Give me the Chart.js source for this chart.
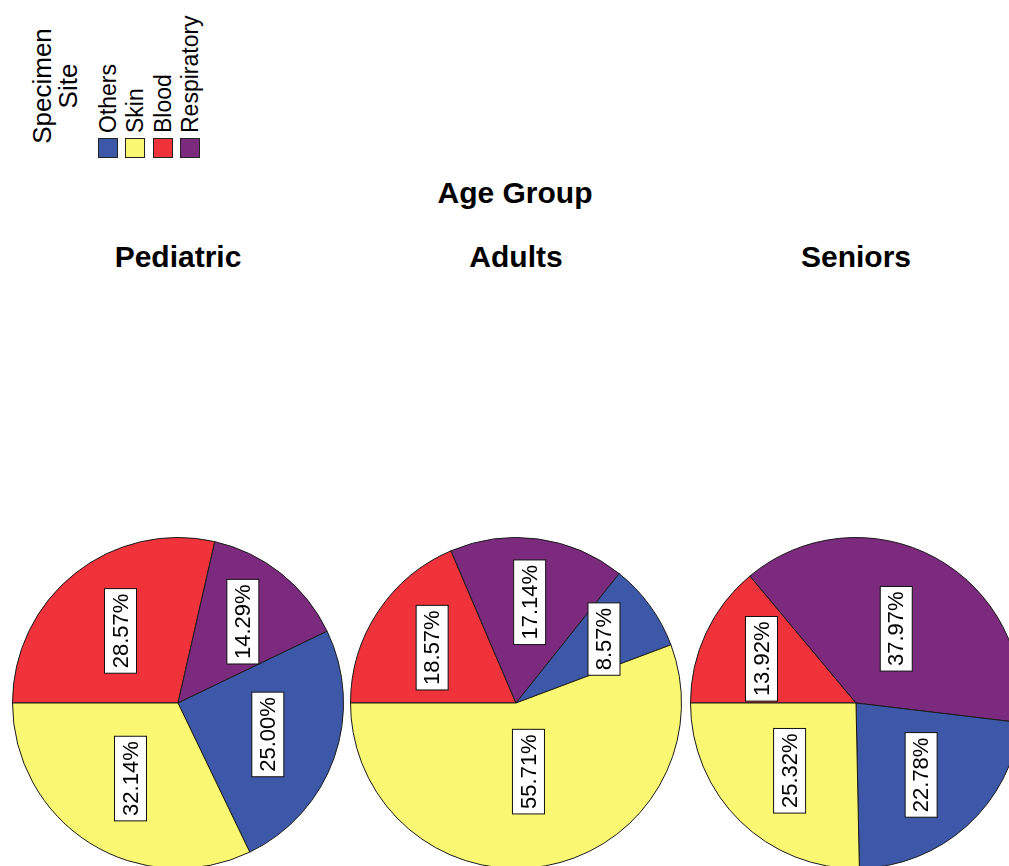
<!DOCTYPE html>
<html>
<head>
<meta charset="utf-8">
<script src="https://cdn.jsdelivr.net/npm/chart.js@4.4.0/dist/chart.umd.min.js"></script>
<style>
  html, body { margin: 0; padding: 0; overflow: hidden; }
  body { width: 1009px; height: 866px; position: relative; background: #fff; font-family: "Liberation Sans", Arial, sans-serif; color: #000; }
  .title { position: absolute; font-weight: bold; font-size: 30px; line-height: 1; white-space: nowrap; transform: translateX(-50%); }
  .pie { position: absolute; top: 537px; }
  .rot { position: absolute; transform-origin: 0 0; transform: rotate(-90deg); white-space: nowrap; line-height: 1; }
  .swatch { position: absolute; top: 138px; width: 20px; height: 20px; box-sizing: border-box; border: 1px solid #222; }
</style>
</head>
<body>
<div id="legend"></div>
<div class="title" style="left:515px; top:178px;">Age Group</div>

<script>
const categories = ['Others', 'Skin', 'Blood', 'Respiratory'];
const groups = ['Pediatric', 'Adults', 'Seniors'];
const pediatric = [25.00, 32.14, 28.57, 14.29];
const adults = [8.57, 55.71, 18.57, 17.14];
const seniors = [22.78, 25.32, 13.92, 37.97];
const colors = ['#3e58a9', '#faf873', '#f0323a', '#7b2a7e'];

// slices go clockwise from 9 o'clock in this order
const drawOrder = [2, 3, 0, 1];

const pieCenters = [178, 516, 856];
const groupValues = [pediatric, adults, seniors];

// legend
const legend = document.getElementById('legend');
const head = document.createElement('div');
head.className = 'rot';
head.style.cssText = 'left:29px; top:151px; width:130px; font-size:26px; line-height:26px; text-align:center; white-space:normal;';
head.innerHTML = 'Specimen<br>Site';
legend.appendChild(head);

categories.forEach((name, i) => {
    const x = 98 + i * 27.3;
    const sw = document.createElement('div');
    sw.className = 'swatch';
    sw.style.left = x + 'px';
    sw.style.background = colors[i];
    legend.appendChild(sw);

    const lab = document.createElement('div');
    lab.className = 'rot';
    lab.style.left = (x - 1) + 'px';
    lab.style.top = '133px';
    lab.style.fontSize = '23px';
    lab.textContent = name;
    legend.appendChild(lab);
});

const boxLabels = {
    id: 'boxLabels',
    afterDatasetsDraw(chart) {
        const ctx = chart.ctx;
        const meta = chart.getDatasetMeta(0);
        const values = chart.data.datasets[0].data;
        meta.data.forEach((arc, i) => {
            const p = arc.getProps(['x', 'y', 'startAngle', 'endAngle', 'outerRadius'], true);
            const mid = (p.startAngle + p.endAngle) / 2;
            const d = p.outerRadius * (0.70 - 0.005 * values[i]);
            const text = values[i].toFixed(2) + '%';
            ctx.save();
            ctx.font = '22px "Liberation Sans", Arial, sans-serif';
            const w = ctx.measureText(text).width;
            ctx.translate(p.x + Math.cos(mid) * d, p.y + Math.sin(mid) * d);
            ctx.rotate(-Math.PI / 2);
            ctx.fillStyle = '#fff';
            ctx.fillRect(-w / 2 - 5, -16, w + 10, 32);
            ctx.strokeStyle = '#111';
            ctx.lineWidth = 1;
            ctx.strokeRect(-w / 2 - 5, -16, w + 10, 32);
            ctx.fillStyle = '#000';
            ctx.textAlign = 'center';
            ctx.textBaseline = 'middle';
            ctx.fillText(text, 0, 1);
            ctx.restore();
        });
    }
};

groups.forEach((g, k) => {
    const t = document.createElement('div');
    t.className = 'title';
    t.style.left = pieCenters[k] + 'px';
    t.style.top = '242px';
    t.textContent = g;
    document.body.appendChild(t);

    const canvas = document.createElement('canvas');
    canvas.className = 'pie';
    canvas.width = 332;
    canvas.height = 332;
    canvas.style.left = (pieCenters[k] - 166) + 'px';
    document.body.appendChild(canvas);

    const vals = groupValues[k];
    new Chart(canvas.getContext('2d'), {
        type: 'pie',
        data: {
            labels: drawOrder.map(i => categories[i]),
            datasets: [{
                data: drawOrder.map(i => vals[i]),
                backgroundColor: drawOrder.map(i => colors[i]),
                borderColor: '#1a1a1a',
                borderWidth: 1
            }]
        },
        options: {
            responsive: false,
            animation: false,
            devicePixelRatio: 1,
            rotation: -90,
            layout: { padding: 0 },
            plugins: {
                legend: { display: false },
                tooltip: { enabled: false }
            }
        },
        plugins: [boxLabels]
    });
});
</script>
</body>
</html>
